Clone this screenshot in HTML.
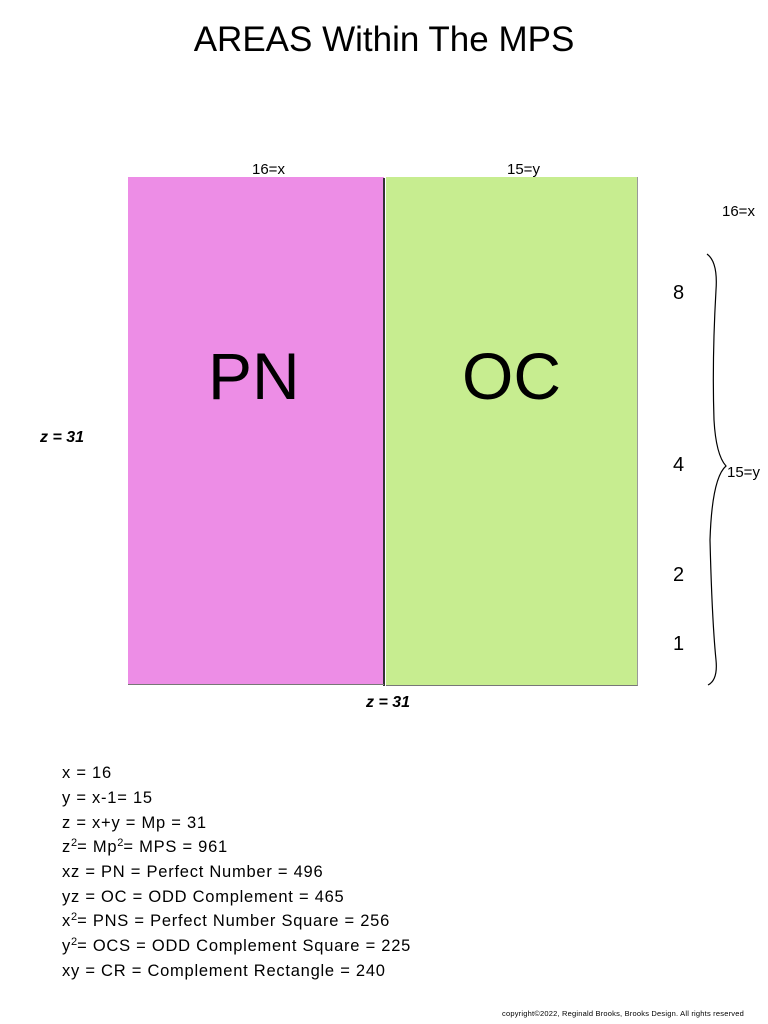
<!DOCTYPE html>
<html><head><style>
body{margin:0;width:768px;height:1024px;background:#fff;position:relative;font-family:"Liberation Sans",sans-serif;overflow:hidden}
.t{position:absolute;white-space:nowrap;color:#000}
.l{position:absolute;left:62px;white-space:nowrap;font-size:16.5px;letter-spacing:0.75px;line-height:20px}
.l sup{font-size:11px;line-height:0;vertical-align:6px;letter-spacing:0}
</style></head><body>
<div class="t" style="left:0;width:768px;text-align:center;top:20px;font-size:35px">AREAS Within The MPS</div>
<div style="position:absolute;left:128px;top:177px;width:256px;height:508px;background:#ed8de6"></div>
<div style="position:absolute;left:386px;top:177px;width:251px;height:508px;background:#c7ed90;border-right:1px solid #999;border-bottom:1px solid #777"></div>
<div style="position:absolute;left:383px;top:178px;width:2px;height:508px;background:#333"></div>
<div style="position:absolute;left:128px;top:684px;width:256px;height:1px;background:#777"></div>
<div class="t" style="left:252px;top:161px;font-size:15px">16=x</div>
<div class="t" style="left:507px;top:161px;font-size:15px">15=y</div>
<div class="t" style="left:208px;top:338px;font-size:66px">PN</div>
<div class="t" style="left:462px;top:338px;font-size:66px">OC</div>
<div class="t" style="left:40px;top:429px;font-size:16px;font-weight:bold;font-style:italic">z = 31</div>
<div class="t" style="left:366px;top:694px;font-size:16px;font-weight:bold;font-style:italic">z = 31</div>
<div class="t" style="left:722px;top:203px;font-size:15px">16=x</div>
<div class="t" style="left:727px;top:464px;font-size:15px">15=y</div>
<div class="t" style="left:673px;top:282px;font-size:20px">8</div>
<div class="t" style="left:673px;top:454px;font-size:20px">4</div>
<div class="t" style="left:673px;top:564px;font-size:20px">2</div>
<div class="t" style="left:673px;top:633px;font-size:20px">1</div>
<svg style="position:absolute;left:0;top:0" width="768" height="1024"><path d="M707 254 Q718 262 716 290 Q712 360 714 420 Q716 455 726 466 Q712 478 710 540 Q712 620 716 660 Q718 680 708 685" fill="none" stroke="#000" stroke-width="1.2"/></svg>
<div class="l" style="top:763px">x = 16</div>
<div class="l" style="top:788px">y = x-1= 15</div>
<div class="l" style="top:813px">z = x+y = Mp = 31</div>
<div class="l" style="top:837px">z<sup>2</sup>= Mp<sup>2</sup>= MPS = 961</div>
<div class="l" style="top:862px">xz = PN = Perfect Number = 496</div>
<div class="l" style="top:887px">yz = OC = ODD Complement = 465</div>
<div class="l" style="top:911px">x<sup>2</sup>= PNS = Perfect Number Square = 256</div>
<div class="l" style="top:936px">y<sup>2</sup>= OCS = ODD Complement Square = 225</div>
<div class="l" style="top:961px">xy = CR = Complement Rectangle = 240</div>
<div class="t" style="left:502px;top:1009px;font-size:7.5px;letter-spacing:0.2px">copyright©2022, Reginald Brooks, Brooks Design. All rights reserved</div>
</body></html>
